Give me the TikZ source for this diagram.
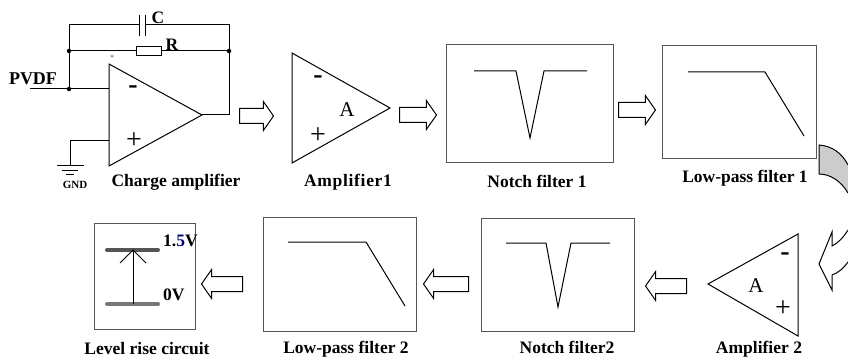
\documentclass[tikz,border=0pt]{standalone}
\usepackage{fontspec}
\setmainfont{Liberation Serif}
\usetikzlibrary{shapes.arrows}
\definecolor{ChainInk}{HTML}{000000}
\definecolor{ChainFrame}{HTML}{555555}
\definecolor{ChainBend}{HTML}{CCCCCC}
\definecolor{ChainRailHigh}{HTML}{555555}
\definecolor{ChainRailLow}{HTML}{777777}
\definecolor{ChainBlue}{HTML}{000080}
\tikzset{
  chain label/.style={font=\bfseries\fontsize{17.5}{20}\selectfont, text=ChainInk, inner sep=0pt},
  chain name/.style={font=\bfseries\fontsize{18}{20}\selectfont, text=ChainInk, inner sep=0pt},
  chain tiny/.style={font=\bfseries\fontsize{11}{13}\selectfont, text=ChainInk, inner sep=0pt},
  chain sign/.style={font=\fontsize{28}{30}\selectfont, text=ChainInk, inner sep=0pt},
  chain gain/.style={font=\fontsize{21}{23}\selectfont, text=ChainInk, inner sep=0pt},
  chain wire/.style={draw=ChainInk, line width=1pt},
  chain amp/.style={draw=ChainInk, line width=1pt, line join=miter},
  chain box/.style={draw=ChainFrame, line width=1pt, fill=white, inner sep=0pt},
  chain curve/.style={draw=ChainInk, line width=1pt},
  chain dot/.style={circle, fill=ChainInk, minimum size=4.5pt, inner sep=0pt},
  chain step/.style={single arrow, draw=ChainInk, line width=1pt, fill=white, inner sep=0pt,
    text height=14pt, text depth=0pt, anchor=tail,
    single arrow head extend=7pt, single arrow tip angle=110, minimum width=28pt},
  chain bend/.style={draw=ChainInk, line width=1pt},
  chain rail/.style={line width=4pt, line cap=round},
}
\begin{document}
\begin{tikzpicture}[x=1pt,y=-1pt]
  \useasboundingbox (0,0) rectangle (848,358);

  % charge amplifier
  \draw[chain amp] (109,64) -- (109,166) -- (202,115) -- cycle;
  \coordinate (tipA) at (202,115);
  \coordinate (inv) at (109,89);
  \coordinate (noninv) at (109,141);
  \coordinate (pvdf) at (30,89);
  \node[chain dot] (dotIn) at (69,89) {};
  \node[chain dot] (dotL) at (69,51) {};
  \node[chain dot] (dotR) at (229,51) {};
  \coordinate (cornerL) at (69,25);
  \coordinate (cornerR) at (229,25);
  \coordinate (cornerO) at (229,115);
  \coordinate (capL) at (139,25);
  \coordinate (capR) at (145,25);
  \node[draw=ChainInk, line width=1pt, minimum width=25pt, minimum height=9pt, inner sep=0pt] (res) at (148.5,51) {};
  \draw[chain wire] (pvdf) -- (dotIn) -- (inv);
  \draw[chain wire] (dotIn) -- (dotL) -- (cornerL) -- (capL);
  \draw[chain wire] (capR) -- (cornerR) -- (dotR) -- (cornerO) -- (tipA);
  \draw[chain wire] (dotL) -- (res) -- (dotR);
  \draw[chain wire] (139,15) -- (139,36);
  \draw[chain wire] (145,15) -- (145,36);
  \coordinate (gnd) at (70,166);
  \draw[chain wire] (noninv) -- (70,141) -- (gnd);
  \draw[chain wire] (57,166) -- (84,166);
  \draw[chain wire] (62,171) -- (78,171);
  \draw[chain wire] (66,175) -- (74,175);
  \node[chain tiny] (gndText) at (75,185) {GND};
  \node[chain label] (capText) at (158,18) {C};
  \node[chain label] (resText) at (172,45) {R};
  \node[chain name] (pvdfText) at (33,79) {PVDF};
  \node[chain sign, text=ChainFrame] (starText) at (112,58) {\fontsize{8}{9}\selectfont*};
  \node[chain sign] (minusA) at (133,90) {\textbf{-}};
  \node[chain sign] (plusA) at (134,141) {+};
  \node[chain label] (chargeText) at (176,182) {Charge amplifier};

  % amplifier 1
  \draw[chain amp] (292,53) -- (292,163) -- (390,108) -- cycle;
  \node[chain sign] (minusB) at (318,80) {\textbf{-}};
  \node[chain sign] (plusB) at (318,136) {+};
  \node[chain gain] (gainB) at (347,110) {A};
  \node[chain label] (ampText) at (348,182) {\addfontfeature{LetterSpace=4}Amplifier1};

  % notch 1
  \node[chain box, minimum width=167pt, minimum height=118pt] (notchA) at (529.5,104) {};
  \draw[chain curve] (474,71) -- (516,71) -- (530,138) -- (544,71) -- (587,71);
  \node[chain label] (notchAText) at (537,181) {Notch filter 1};

  % low-pass 1
  \node[chain box, minimum width=154pt, minimum height=113pt] (lowA) at (739,102.5) {};
  \draw[chain curve] (688,72) -- (765,72) -- (804,136);
  \node[chain label] (lowAText) at (745,178) {Low-pass filter 1};

  % turn at the right edge
  \draw[chain bend, fill=ChainBend] (848,165) .. controls (842,153) and (832,146) .. (819,145)
    -- (819,174) .. controls (830,174) and (841,181) .. (848,193);
  \draw[chain bend, fill=white] (848,230) .. controls (843,238) and (838,243) .. (832,246)
    -- (832,232) -- (819,264) -- (832,290) -- (832,275)
    .. controls (838,273) and (844,268) .. (848,262);

  % amplifier 2
  \draw[chain amp] (798,234) -- (798,336) -- (708,284) -- cycle;
  \node[chain sign] (minusC) at (785,257) {\textbf{-}};
  \node[chain sign] (plusC) at (783,309) {+};
  \node[chain gain] (gainC) at (756,286) {A};
  \node[chain label] (ampCText) at (759,349) {Amplifier 2};

  % notch 2
  \node[chain box, minimum width=153pt, minimum height=113pt] (notchB) at (557.5,274.5) {};
  \draw[chain curve] (506,243) -- (546,243) -- (558,307) -- (571,243) -- (610,243);
  \node[chain label] (notchBText) at (567,347) {Notch filter2};

  % low-pass 2
  \node[chain box, minimum width=153pt, minimum height=114pt] (lowB) at (339.5,274) {};
  \draw[chain curve] (288,242) -- (366,242) -- (405,306);
  \node[chain label] (lowBText) at (346,349) {Low-pass filter 2};

  % level rise
  \node[chain box, minimum width=101pt, minimum height=106pt] (level) at (144.5,276) {};
  \coordinate (railHigh) at (133,250);
  \coordinate (railLow) at (133,304);
  \draw[chain rail, ChainRailHigh] (107,250) -- (158,250);
  \draw[chain rail, ChainRailLow] (107,304) -- (158,304);
  \draw[chain wire] (railLow) -- (railHigh);
  \draw[chain wire] (120,263) -- (railHigh) -- (146,263);
  \node[chain label, anchor=west] (highText) at (163,241) {1.\textcolor{ChainBlue}{5}V};
  \node[chain label, anchor=west] (lowText) at (163,295) {0V};
  \node[chain label] (levelText) at (147,349) {Level rise circuit};

  % steps between the stages
  \node[chain step, minimum height=34pt] (stepA) at (239,116) {};
  \node[chain step, minimum height=37pt] (stepB) at (399,115) {};
  \node[chain step, minimum height=37pt] (stepC) at (618,110) {};
  \node[chain step, minimum height=41pt, rotate=180] (stepD) at (687,286) {};
  \node[chain step, minimum height=45pt, rotate=180] (stepE) at (469,284) {};
  \node[chain step, minimum height=41pt, rotate=180] (stepF) at (243,284) {};
\end{tikzpicture}
\end{document}
